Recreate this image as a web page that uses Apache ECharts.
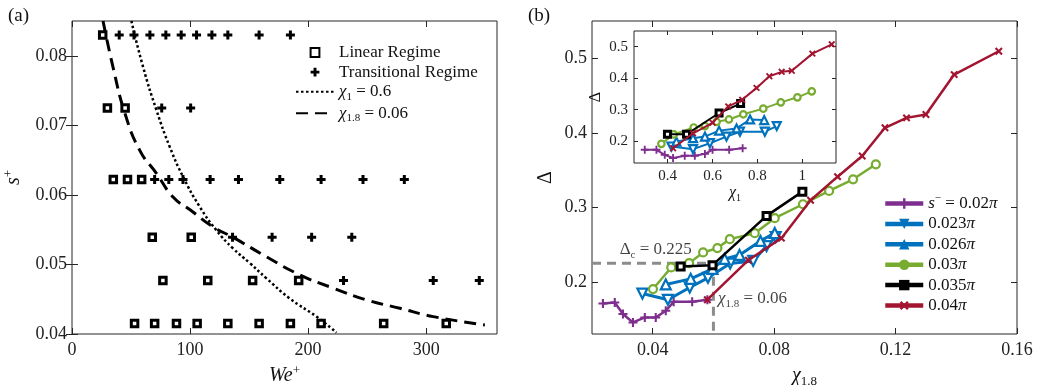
<!DOCTYPE html>
<html>
<head>
<meta charset="utf-8">
<script src="https://cdn.jsdelivr.net/npm/echarts@6/dist/echarts.min.js"></script>
<style>
  html, body { margin: 0; padding: 0; background: #fff; }
  #chart { width: 1040px; height: 385px; }
</style>
</head>
<body>
<div id="chart"></div>
<script>
// ---- panel (a): regime map, [We+, s+] ----
const linearRegime = [
  [26, 0.083],
  [30, 0.0725], [45, 0.0725],
  [35, 0.0622], [47, 0.0622], [59, 0.0622],
  [68, 0.0539], [101, 0.0539],
  [77, 0.0477], [115, 0.0477], [153, 0.0477], [192, 0.0477],
  [53, 0.0415], [70, 0.0415], [88.5, 0.0415], [106, 0.0415], [132, 0.0415],
  [158.5, 0.0415], [185, 0.0415], [211, 0.0415], [264, 0.0415], [317, 0.0415]
];
const transitionalRegime = [
  [40, 0.083], [52.5, 0.083], [66, 0.083], [79.5, 0.083], [92.5, 0.083],
  [105.5, 0.083], [118.5, 0.083], [132, 0.083], [158.5, 0.083], [185, 0.083],
  [76, 0.0725], [100.5, 0.0725],
  [70, 0.0622], [82, 0.0622], [94, 0.0622], [117, 0.0622], [141, 0.0622],
  [176, 0.0622], [211, 0.0622], [246.5, 0.0622], [281.5, 0.0622],
  [136, 0.0539], [169.5, 0.0539], [203, 0.0539], [237, 0.0539],
  [230, 0.0477], [306, 0.0477], [345, 0.0477]
];
const chi1Curve = [
  [50.3, 0.085], [60.2, 0.0784], [71.5, 0.0722], [82.8, 0.0669], [94.1, 0.0626],
  [108.2, 0.0583], [122.4, 0.0549], [136.4, 0.0523], [150.6, 0.0502],
  [164.7, 0.048], [184.5, 0.0451], [207.1, 0.0425], [224, 0.0402]
];
const chi18Curve = [
  [26.3, 0.085], [34.7, 0.0784], [44.9, 0.0717], [57.4, 0.0664], [71.5, 0.0631],
  [85.6, 0.0597], [99.7, 0.0579], [119.5, 0.0554], [136.4, 0.0539], [164.7, 0.0511],
  [193, 0.0485], [221.2, 0.0466], [249.5, 0.0449], [277.7, 0.0437], [306, 0.0425],
  [349.7, 0.0413]
];
const weTicks = [0, 100, 200, 300];
const sTicks = [0.04, 0.05, 0.06, 0.07, 0.08];

// ---- panel (b): Delta vs chi_1.8 ----
const seriesNames = ['0.02π', '0.023π', '0.026π', '0.03π', '0.035π', '0.04π'];
const seriesColors = ['#7e2f8e', '#0072bd', '#0072bd', '#77ac30', '#000000', '#a2142f'];
const main002 = [[0.0236, 0.171], [0.0275, 0.1723], [0.0302, 0.1568], [0.0335, 0.1455], [0.0374, 0.1522],
  [0.041, 0.1522], [0.0443, 0.1612], [0.0469, 0.1732], [0.053, 0.1732], [0.058, 0.1759]];
const main0023 = [[0.0366, 0.1843], [0.045, 0.1759], [0.0522, 0.1924], [0.0582, 0.2054], [0.0655, 0.2245],
  [0.0731, 0.2281], [0.0775, 0.248], [0.0805, 0.26]];
const main0026 = [[0.0443, 0.1965], [0.0525, 0.204], [0.0597, 0.2174], [0.0637, 0.2308], [0.0686, 0.2361],
  [0.0755, 0.2549], [0.0802, 0.2655]];
const main003 = [[0.0401, 0.1903], [0.0461, 0.2193], [0.052, 0.2251], [0.0566, 0.2394], [0.0613, 0.2453],
  [0.0654, 0.2573], [0.0736, 0.2653], [0.0802, 0.2854], [0.0895, 0.3041], [0.0981, 0.322],
  [0.106, 0.3376], [0.1135, 0.3577]];
const main0035 = [[0.0492, 0.2207], [0.0597, 0.2224], [0.0775, 0.2885], [0.0893, 0.321]];
const main004 = [[0.058, 0.176], [0.0715, 0.229], [0.0824, 0.2586], [0.092, 0.3095], [0.1009, 0.3411],
  [0.109, 0.3688], [0.1165, 0.4067], [0.1236, 0.42], [0.13, 0.4246], [0.1393, 0.4781], [0.154, 0.5094]];
const chiTicks = [0.04, 0.08, 0.12, 0.16];
const deltaTicks = [0.2, 0.3, 0.4, 0.5];
const deltaC = 0.225;
const chiC = 0.06;

// inset: Delta vs chi_1
const inset002 = [[0.298, 0.172], [0.35, 0.172], [0.387, 0.156], [0.424, 0.146], [0.476, 0.153],
  [0.521, 0.153], [0.566, 0.159], [0.6, 0.172], [0.674, 0.172], [0.734, 0.177]];
const inset0023 = [[0.417, 0.1825], [0.513, 0.174], [0.588, 0.193], [0.662, 0.214], [0.722, 0.2296],
  [0.833, 0.2296], [0.886, 0.2475]];
const inset0026 = [[0.439, 0.198], [0.513, 0.209], [0.566, 0.214], [0.629, 0.233], [0.707, 0.24],
  [0.767, 0.2685], [0.83, 0.2665]];
const inset003 = [[0.372, 0.191], [0.427, 0.221], [0.516, 0.243], [0.566, 0.2475], [0.618, 0.261],
  [0.673, 0.2685], [0.737, 0.285], [0.826, 0.303], [0.904, 0.323], [0.978, 0.339], [1.042, 0.358]];
const inset0035 = [[0.399, 0.2214], [0.484, 0.2214], [0.629, 0.289], [0.725, 0.319]];
const inset004 = [[0.424, 0.177], [0.513, 0.2245], [0.6, 0.258], [0.67, 0.31], [0.732, 0.331],
  [0.796, 0.369], [0.853, 0.406], [0.908, 0.42], [0.953, 0.4236], [1.045, 0.478], [1.131, 0.5075]];
const chi1Ticks = [0.4, 0.6, 0.8, 1];

const mainData = [main002, main0023, main0026, main003, main0035, main004];
const insetData = [inset002, inset0023, inset0026, inset003, inset0035, inset004];

const FONT = 'Liberation Serif, DejaVu Serif, serif';
const INK = '#262626';
const TEXT = '#111';
const PLUS = 'path://M-1,-3H1V-1H3V1H1V3H-1V1H-3V-1H-1Z';
const THIN_PLUS = 'path://M-0.7,-3H0.7V-0.7H3V0.7H0.7V3H-0.7V0.7H-3V-0.7H-0.7Z';

const rich = (size) => {
  const small = Math.round(size * 0.65);
  const base = { fontFamily: FONT, color: TEXT, textBorderWidth: 0 };
  return {
    i: { ...base, fontStyle: 'italic', fontSize: size, lineHeight: size + 4 },
    r: { ...base, fontSize: size, lineHeight: size + 4 },
    sup: { ...base, fontSize: small, verticalAlign: 'top', lineHeight: small },
    sub: { ...base, fontSize: small, verticalAlign: 'bottom', lineHeight: small }
  };
};

function valueAxis(grid, min, max, ticks, side, opts) {
  const mirror = side === 'top' || side === 'right';
  return {
    type: 'value', gridIndex: grid, min: min, max: max, position: side,
    axisLine: { show: false },
    splitLine: { show: false },
    axisTick: { inside: true, length: opts.tick, customValues: ticks, lineStyle: { color: INK, width: 1 } },
    axisLabel: {
      show: !mirror, customValues: ticks, margin: opts.margin,
      fontFamily: FONT, fontSize: opts.font, color: '#222'
    },
    name: mirror ? '' : opts.name,
    nameLocation: 'middle',
    nameGap: opts.nameGap,
    nameTextStyle: { fontFamily: FONT, fontSize: opts.nameFont, color: TEXT, rich: rich(opts.nameFont) }
  };
}

const markSymbols = [THIN_PLUS, 'triangle', 'triangle', 'circle', 'rect', THIN_PLUS];

function groupSeries(data, idx, inset) {
  const c = seriesColors[idx];
  const sizes = inset ? [8, 8, 8, 6.5, 6, 8] : [9, 10, 10, 8, 7, 9];
  const open = idx >= 1 && idx <= 4;
  return {
    name: inset ? 'inset ' + seriesNames[idx] : seriesNames[idx],
    type: 'line',
    xAxisIndex: inset ? 4 : 2,
    yAxisIndex: inset ? 4 : 2,
    data: data,
    symbol: markSymbols[idx],
    symbolSize: sizes[idx],
    symbolRotate: idx === 1 ? 180 : (idx === 5 ? 45 : 0),
    color: c,
    itemStyle: open
      ? { color: '#fff', borderColor: c, borderWidth: idx === 4 ? 3 : 2.2 }
      : { color: c, borderWidth: 0 },
    lineStyle: { color: c, width: inset ? 2 : (idx === 1 || idx === 2 ? 3 : 2.5) },
    z: 3 + idx,
    animation: false
  };
}

const legendTextB = {
  '0.02π': '{i|s}{sup|−}{r| = 0.02}{i|π}',
  '0.023π': '{r|0.023}{i|π}',
  '0.026π': '{r|0.026}{i|π}',
  '0.03π': '{r|0.03}{i|π}',
  '0.035π': '{r|0.035}{i|π}',
  '0.04π': '{r|0.04}{i|π}'
};
const legendTextA = {
  'Linear Regime': '{r|Linear Regime}',
  'Transitional Regime': '{r|Transitional Regime}',
  'χ1 = 0.6': '{i|χ}{sub|1}{r| = 0.6}',
  'χ1.8 = 0.06': '{i|χ}{sub|1.8}{r| = 0.06}'
};
const hiddenDot = { color: 'transparent', borderColor: 'transparent' };

const gridBase = { show: true, borderColor: INK, borderWidth: 1, containLabel: false, outerBoundsMode: 'none' };

const chart = echarts.init(document.getElementById('chart'), null, { renderer: 'canvas' });
chart.setOption({
  animation: false,
  backgroundColor: '#fff',
  grid: [
    { ...gridBase, left: 72, top: 21, width: 425, height: 313, backgroundColor: 'transparent' },
    { ...gridBase, left: 592, top: 21, width: 425, height: 313, backgroundColor: 'transparent' },
    { ...gridBase, left: 634, top: 31, width: 202, height: 132, backgroundColor: '#fff' }
  ],
  xAxis: [
    valueAxis(0, 0, 360, weTicks, 'bottom', { tick: 6, margin: 7, font: 18, name: '{i|We}{sup|+}', nameGap: 28, nameFont: 20 }),
    valueAxis(0, 0, 360, weTicks, 'top', { tick: 6 }),
    valueAxis(1, 0.02, 0.16, chiTicks, 'bottom', { tick: 6, margin: 7, font: 18, name: '{i|χ}{sub|1.8}', nameGap: 30, nameFont: 20 }),
    valueAxis(1, 0.02, 0.16, chiTicks, 'top', { tick: 6 }),
    valueAxis(2, 0.25, 1.15, chi1Ticks, 'bottom', { tick: 4, margin: 6, font: 15, name: '{i|χ}{sub|1}', nameGap: 20, nameFont: 16 }),
    valueAxis(2, 0.25, 1.15, chi1Ticks, 'top', { tick: 4 })
  ],
  yAxis: [
    valueAxis(0, 0.04, 0.085, sTicks, 'left', { tick: 6, margin: 5, font: 18, name: '{i|s}{sup|+}', nameGap: 46, nameFont: 20 }),
    valueAxis(0, 0.04, 0.085, sTicks, 'right', { tick: 6 }),
    valueAxis(1, 0.13, 0.55, deltaTicks, 'left', { tick: 6, margin: 5, font: 18, name: '{r|Δ}', nameGap: 34, nameFont: 20 }),
    valueAxis(1, 0.13, 0.55, deltaTicks, 'right', { tick: 6 }),
    valueAxis(2, 0.13, 0.55, deltaTicks, 'left', { tick: 4, margin: 6, font: 15, name: '{r|Δ}', nameGap: 28, nameFont: 16 }),
    valueAxis(2, 0.13, 0.55, deltaTicks, 'right', { tick: 4 })
  ],
  legend: [
    {
      left: 295, top: 44, padding: 0, orient: 'vertical', selectedMode: false,
      itemWidth: 38, itemHeight: 11, itemGap: 2.6,
      data: [
        { name: 'Linear Regime' },
        { name: 'Transitional Regime' },
        { name: 'χ1 = 0.6', itemStyle: hiddenDot },
        { name: 'χ1.8 = 0.06', itemStyle: hiddenDot }
      ],
      formatter: (name) => legendTextA[name],
      textStyle: { fontFamily: FONT, fontSize: 17, color: TEXT, rich: rich(17) }
    },
    {
      left: 883, top: 193, padding: 0, orient: 'vertical', selectedMode: false,
      itemWidth: 38, itemHeight: 13, itemGap: 3.4,
      data: seriesNames.map((n, i) => ({
        name: n,
        itemStyle: { color: seriesColors[i], borderColor: seriesColors[i], borderWidth: 0 }
      })),
      lineStyle: { width: 4.5 },
      formatter: (name) => legendTextB[name],
      textStyle: { fontFamily: FONT, fontSize: 17, color: TEXT, rich: rich(17) }
    }
  ],
  graphic: [
    { type: 'text', left: 8, top: 7, style: { text: '(a)', font: '19px ' + FONT, fill: TEXT } },
    { type: 'text', left: 528, top: 7, style: { text: '(b)', font: '19px ' + FONT, fill: TEXT } }
  ],
  series: [
    {
      name: 'Linear Regime', type: 'line', xAxisIndex: 0, yAxisIndex: 0,
      data: linearRegime, symbol: 'rect', symbolSize: 6.5, color: '#000',
      itemStyle: { color: '#fff', borderColor: '#000', borderWidth: 3 },
      lineStyle: { width: 0, opacity: 0 }, z: 4
    },
    {
      name: 'Transitional Regime', type: 'line', xAxisIndex: 0, yAxisIndex: 0,
      data: transitionalRegime, symbol: PLUS, symbolSize: 9, color: '#000',
      itemStyle: { color: '#000' },
      lineStyle: { width: 0, opacity: 0 }, z: 4
    },
    {
      name: 'χ1 = 0.6', type: 'line', xAxisIndex: 0, yAxisIndex: 0,
      data: chi1Curve, symbol: 'none', smooth: true, color: '#000',
      lineStyle: { color: '#000', width: 2.5, type: [2.5, 2.5] }, z: 3
    },
    {
      name: 'χ1.8 = 0.06', type: 'line', xAxisIndex: 0, yAxisIndex: 0,
      data: chi18Curve, symbol: 'none', smooth: true, color: '#000',
      lineStyle: { color: '#000', width: 3, type: [12, 7] }, z: 3
    },
    {
      name: 'critical', type: 'line', xAxisIndex: 2, yAxisIndex: 2,
      data: [[0.02, deltaC], [chiC, deltaC], [chiC, 0.13]],
      symbol: 'none', lineStyle: { color: '#8c8c8c', width: 3, type: [9, 6] }, z: 2
    },
    {
      name: 'notes', type: 'scatter', xAxisIndex: 2, yAxisIndex: 2,
      data: [
        { value: [0.0291, 0.2428], label: { formatter: '{r|Δ}{sub|c}{r| = 0.225}' } },
        { value: [0.0615, 0.177], label: { formatter: '{i|χ}{sub|1.8}{r| = 0.06}' } }
      ],
      symbolSize: 0, itemStyle: { color: '#000' },
      label: {
        show: true, position: 'right', distance: 0,
        color: TEXT, textBorderWidth: 0, rich: rich(17)
      },
      emphasis: { disabled: true },
      z: 10
    },
    ...mainData.map((d, i) => groupSeries(d, i, false)),
    ...insetData.map((d, i) => groupSeries(d, i, true))
  ]
});
</script>
</body>
</html>
